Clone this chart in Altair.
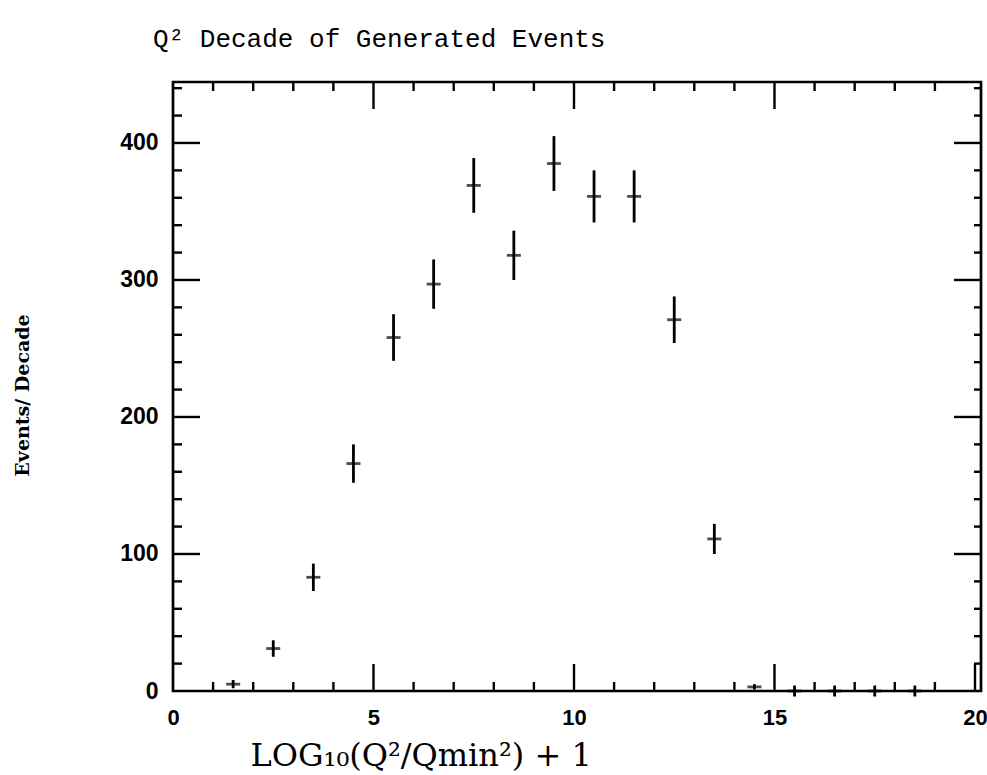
import altair as alt
import pandas as pd

# ---- data ----
bin_centers = [1.5, 2.5, 3.5, 4.5, 5.5, 6.5, 7.5, 8.5, 9.5, 10.5, 11.5, 12.5, 13.5, 14.5,
               15.5, 16.5, 17.5, 18.5]
counts = [5, 31, 83, 166, 258, 297, 369, 318, 385, 361, 361, 271, 111, 3,
          0, 0, 0, 0]
errors = [3, 6, 10, 14, 17, 18, 20, 18, 20, 19, 19, 17, 11, 2,
          4, 4, 4, 4]

x_labels = [0, 5, 10, 15, 20]
y_labels = [0, 100, 200, 300, 400]
x_minor = [1, 2, 3, 4, 6, 7, 8, 9, 11, 12, 13, 14, 16, 17, 18, 19]
x_major_bottom = [5, 10, 15, 20]
x_major_top = [5, 10, 15]
y_minor = [20, 40, 60, 80, 120, 140, 160, 180, 220, 240, 260, 280,
           320, 340, 360, 380, 420, 440]
y_major = [100, 200, 300, 400]

W, H = 808, 609
X_SCALE = alt.Scale(domain=[0, 20.15], nice=False, zero=False)
Y_SCALE = alt.Scale(domain=[0, 444.5], nice=False)

df = pd.DataFrame({"x": bin_centers, "n": counts, "e": errors})

x_axis = alt.Axis(
    values=x_labels, ticks=False, domain=False, grid=False,
    labelFont="Liberation Sans", labelFontWeight="bold", labelFontSize=22,
    labelColor="black", labelPadding=16, labelFlush=False,
    title="LOG₁₀(Q²/Qmin²) + 1", titleFont="DejaVu Serif", titleFontSize=32,
    titleFontWeight="normal", titleColor="black", titleX=77, titleY=74,
    titleAlign="left", titleBaseline="alphabetic",
)
y_axis = alt.Axis(
    values=y_labels, ticks=False, domain=False, grid=False,
    labelFont="Liberation Sans", labelFontWeight="bold", labelFontSize=23,
    labelColor="black", labelPadding=15, labelFlush=False,
    title="Events/ Decade", titleFont="DejaVu Serif", titleFontSize=19,
    titleFontWeight="bold", titleColor="black", titleX=-151, titleY=313,
    titleAngle=270, titleAlign="center", titleBaseline="middle",
)

bars = alt.Chart(df).transform_calculate(
    lo="datum.n - datum.e", hi="datum.n + datum.e"
).mark_rule(color="black", strokeWidth=2.8).encode(
    x=alt.X("x:Q", scale=X_SCALE, axis=x_axis),
    y=alt.Y("lo:Q", scale=Y_SCALE, axis=y_axis),
    y2="hi:Q",
)

cross = alt.Chart(df).mark_tick(
    color="black", orient="horizontal", size=14, thickness=2.8
).encode(
    x=alt.X("x:Q", scale=X_SCALE, axis=x_axis),
    y=alt.Y("n:Q", scale=Y_SCALE, axis=y_axis),
)


def xticks(vals, y0, y1):
    return alt.Chart(pd.DataFrame({"t": vals})).mark_rule(
        color="black", strokeWidth=2.4
    ).encode(
        x=alt.X("t:Q", scale=X_SCALE, axis=x_axis),
        y=alt.value(y0), y2=alt.value(y1),
    )


def yticks(vals, x0, x1):
    return alt.Chart(pd.DataFrame({"t": vals})).mark_rule(
        color="black", strokeWidth=2.4
    ).encode(
        y=alt.Y("t:Q", scale=Y_SCALE, axis=y_axis),
        x=alt.value(x0), x2=alt.value(x1),
    )


tick_layers = [
    xticks(x_minor, H, H - 9),
    xticks(x_major_bottom, H, H - 27),
    xticks(x_minor, 0, 9),
    xticks(x_major_top, 0, 27),
    yticks(y_minor, 0, 9),
    yticks(y_major, 0, 27),
    yticks(y_minor, W, W - 7),
    yticks(y_major, W, W - 27),
]

chart = alt.layer(bars, cross, *tick_layers).properties(
    width=W, height=H,
    autosize=alt.AutoSizeParams(type="none"),
    padding={"left": 173, "top": 82, "right": 6, "bottom": 84},
    background="white",
    title=alt.Title(
        "Q² Decade of Generated Events", font="Liberation Mono", fontSize=26,
        fontWeight="normal", color="black", anchor="start", frame="group",
        dx=-20, offset=8, baseline="alphabetic",
    ),
).configure_view(stroke="black", strokeWidth=2.7)

chart.save("out.html", embed_options={"renderer": "svg", "actions": False})
